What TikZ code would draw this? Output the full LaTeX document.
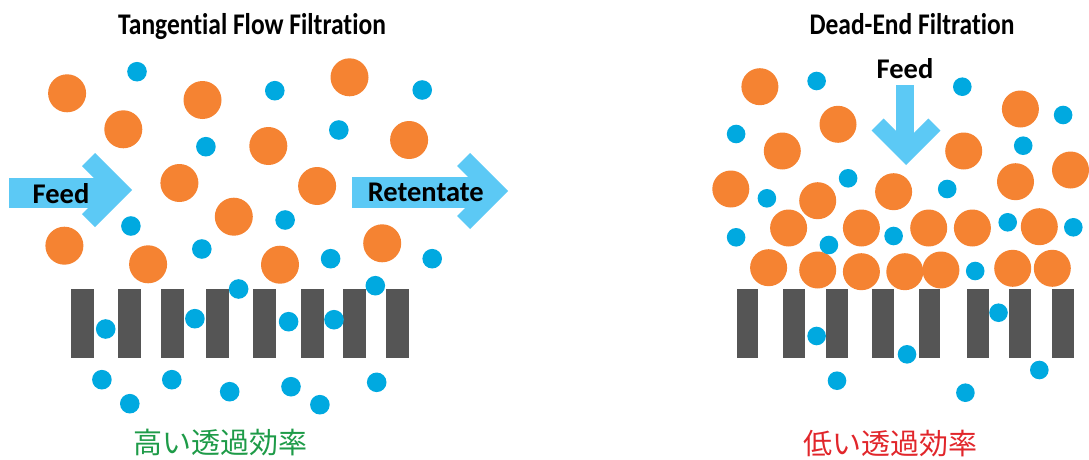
\documentclass[tikz,border=0pt]{standalone}
\usepackage{fontspec}
\setmainfont{Carlito}[Ligatures=NoCommon]
\newfontfamily\cjk{Noto Sans CJK JP}
\definecolor{ballorange}{HTML}{F58332}
\definecolor{ballblue}{HTML}{00A9E0}
\definecolor{arrowblue}{HTML}{5CC9F5}
\definecolor{bargray}{HTML}{555555}
\definecolor{goodgreen}{HTML}{1E9B48}
\definecolor{badred}{HTML}{E1262B}
\begin{document}
\begin{tikzpicture}[x=1pt,y=-1pt,
  bigball/.style={fill=ballorange},
  smallball/.style={fill=ballblue},
  membrane/.style={fill=bargray},
  flowarrow/.style={fill=arrowblue},
  titletext/.style={font=\fontsize{30}{36}\selectfont\bfseries, inner sep=0pt, anchor=base},
  arrowtext/.style={font=\fontsize{28.5}{34}\selectfont\bfseries, inner sep=0pt, anchor=base},
  jptext/.style={font=\cjk\fontsize{29}{34}\selectfont, inner sep=0pt, anchor=base}]
\useasboundingbox (0,0) rectangle (1089,460);

% ---------------- Left: Tangential Flow Filtration ----------------
\foreach \a/\b in {70.9/94,118.1/140.8,160.8/183.5,205.9/229,253.1/275.8,301/324,343/366,386/409}
  \fill[membrane] (\a,289) rectangle (\b,357.7);

\foreach \x/\y in {67.1/93.3,123.3/129.3,202.5/100,349.5/77.3,268.3/146,409.1/140,
  179.4/183,317.1/186,233.8/216.7,64.4/245.7,148.1/264.3,280/264.7,382.2/243.3}
  \fill[bigball] (\x,\y) circle (19pt);

\foreach \x/\y in {137/71.7,274.8/90.7,422.2/90,205.9/146.7,338.8/130,285.1/220,130.9/226,
  201.8/249,330.6/258.7,432.2/258.7,238.6/289,375.3/285.7,105.7/329,194.9/318.7,
  288.6/321.7,334/319.7,101.9/379.7,171.8/379.7,129.8/403.7,229.7/391.7,291/386.7,
  319.9/404.7,376.7/382.3}
  \fill[smallball] (\x,\y) circle (9.8pt);

% Feed arrow
\fill[flowarrow] (9,178) rectangle (108,208);
\fill[flowarrow] (132,190) -- ++(-37,-37) -- ++(-13,13) -- ++(24,24) -- ++(-24,24) -- ++(13,13) -- cycle;
% Retentate arrow
\fill[flowarrow] (352,177) rectangle (484,208);
\fill[flowarrow] (508,191) -- ++(-38,-38) -- ++(-13,13) -- ++(25,25) -- ++(-25,25) -- ++(13,13) -- cycle;

\node[titletext] (tff) at (252,34.3) {\scalebox{0.85}[1]{Tangential Flow Filtration}};
\node[arrowtext] (feedL) at (61,203.3) {Feed};
\node[arrowtext] (ret) at (425.8,201) {Retentate};
\node[jptext, text=goodgreen] (high) at (220.4,453.5) {高い透過効率};

% ---------------- Right: Dead-End Filtration ----------------
\foreach \a/\b in {736.8/758.1,782.6/804.7,826/848.1,871.6/893.6,918.5/940.2,966.5/988.5,1009.2/1031.2,1052.1/1074.2}
  \fill[membrane] (\a,289.3) rectangle (\b,357.7);

\foreach \x/\y in {759.9/86.7,838/124.3,782.3/151,963.7/151,1020.4/109,730.8/189,817.7/200.7,
  893.6/191.7,1015.5/181.7,1070.5/170,
  788.6/228,861.4/228,928.7/228,972.4/228,1039.3/226.7,
  768.6/267.7,817.7/270,861.4/271.7,904.8/271.7,940.9/270,1012.7/268.3,1052.3/268.3}
  \fill[bigball] (\x,\y) circle (18.5pt);

\foreach \x/\y in {816.6/81,962.3/86.7,1063.1/115,736.1/134,1023.2/145.7,848.1/178.3,947.2/189,
  766.9/198.3,1007.7/222.3,1073.3/227.3,736.1/237.3,828.9/245,893.6/236,975.2/271,
  998.5/312.7,816.6/336,907/354.3,837/380.7,965.4/392.7,1039.3/370}
  \fill[smallball] (\x,\y) circle (9.3pt);

% Feed arrow (down)
\fill[flowarrow] (896,85) rectangle (914,147);
\fill[flowarrow] (906,165) -- ++(34.4,-34.4) -- ++(-12.1,-12.1) -- ++(-22.3,22.3) -- ++(-22.3,-22.3) -- ++(-12.1,12.1) -- cycle;

\node[titletext] (def) at (912,34.3) {\scalebox{0.85}[1]{Dead-End Filtration}};
\node[arrowtext] (feedR) at (905,78) {Feed};
\node[jptext, text=badred] (low) at (890,454.3) {低い透過効率};
\end{tikzpicture}
\end{document}
